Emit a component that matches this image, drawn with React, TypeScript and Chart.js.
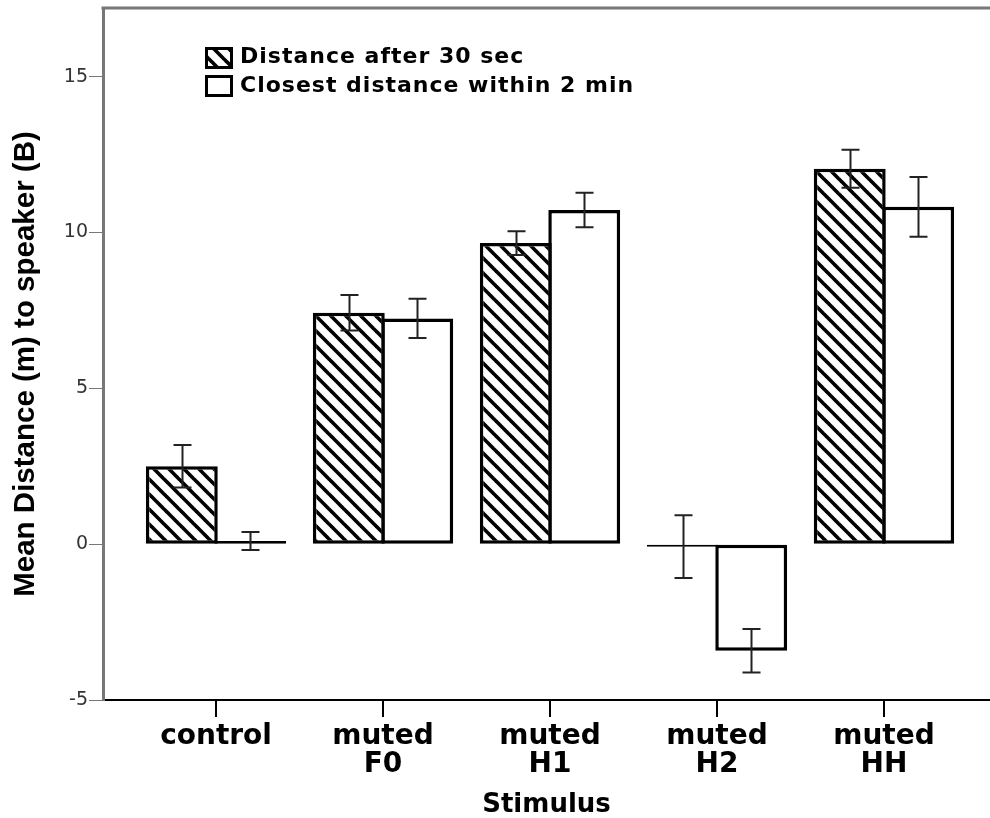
import React, { useEffect, useRef } from 'react';
import { Chart, registerables } from 'chart.js';

Chart.register(...registerables);

const categories: (string | string[])[] = ['control', ['muted', 'F0'], ['muted', 'H1'], ['muted', 'H2'], ['muted', 'HH']];
const after30 = [2.5, 7.42, 9.66, -0.08, 12.04];
const after30Err = [0.68, 0.57, 0.38, 1.01, 0.61];
const closest = [0.1, 7.24, 10.72, -3.42, 10.82];
const closestErr = [0.29, 0.63, 0.55, 0.7, 0.96];
const seriesLabels = ['Distance after 30 sec', 'Closest distance within 2 min'];
const yTitle = 'Mean Distance (m) to speaker (B)';
const xTitle = 'Stimulus';
const yMin = -5;
const yMax = 17.2;
const yStep = 5;
const xMin = -0.677;
const xMax = 4.635;

function makeHatch(): CanvasPattern | string {
  const s = 15;
  const c = document.createElement('canvas');
  c.width = s;
  c.height = s;
  const g = c.getContext('2d');
  if (!g) return '#888';
  g.fillStyle = '#fff';
  g.fillRect(0, 0, s, s);
  g.strokeStyle = '#000';
  g.lineWidth = 3.6;
  for (const k of [-2, -1, 0, 1, 2]) {
    g.beginPath();
    g.moveTo(k * s - s, -s);
    g.lineTo(k * s + 2 * s, 2 * s);
    g.stroke();
  }
  return g.createPattern(c, 'repeat') || '#888';
}

export default function App() {
  const ref = useRef<HTMLCanvasElement | null>(null);

  useEffect(() => {
    if (!ref.current) return;
    const hatch = makeHatch();
    const errs = [after30Err, closestErr];
    const vals = [after30, closest];

    const errorBars = {
      id: 'errorBars',
      afterDatasetsDraw(chart: any) {
        const ctx = chart.ctx;
        const y = chart.scales.y;
        ctx.save();
        ctx.strokeStyle = '#222';
        ctx.lineWidth = 2;
        chart.data.datasets.forEach((_ds: any, i: number) => {
          const meta = chart.getDatasetMeta(i);
          meta.data.forEach((el: any, j: number) => {
            const x = Math.round(el.x) + 0.5;
            const v = vals[i][j];
            const e = errs[i][j];
            const top = y.getPixelForValue(v + e);
            const bot = y.getPixelForValue(v - e);
            ctx.beginPath();
            ctx.moveTo(x, top);
            ctx.lineTo(x, bot);
            ctx.moveTo(x - 9, top);
            ctx.lineTo(x + 9, top);
            ctx.moveTo(x - 9, bot);
            ctx.lineTo(x + 9, bot);
            ctx.stroke();
          });
        });
        ctx.restore();
      },
    };

    const frame = {
      id: 'frame',
      afterDraw(chart: any) {
        const ctx = chart.ctx;
        const a = chart.chartArea;
        ctx.save();
        ctx.strokeStyle = '#777';
        ctx.lineWidth = 3;
        ctx.beginPath();
        ctx.moveTo(a.left - 1.5, a.top);
        ctx.lineTo(a.right, a.top);
        ctx.stroke();
        ctx.save();
        ctx.translate(26, (a.top + a.bottom) / 2 + 10);
        ctx.rotate(-Math.PI / 2);
        ctx.font = 'bold 29.5px "Liberation Sans"';
        ctx.fillStyle = '#000';
        ctx.textAlign = 'center';
        ctx.textBaseline = 'middle';
        ctx.fillText(yTitle, 0, 0);
        ctx.restore();
        const bx = a.left + 102;
        const rows = [a.top + 39, a.top + 67];
        const fills = [hatch, '#fff'];
        ctx.font = 'bold 22px "DejaVu Sans"';
        (ctx as any).letterSpacing = '1px';
        ctx.textAlign = 'left';
        ctx.textBaseline = 'alphabetic';
        rows.forEach((ry, i) => {
          ctx.fillStyle = fills[i] as any;
          ctx.fillRect(bx, ry, 28, 22);
          ctx.strokeStyle = '#000';
          ctx.lineWidth = 3;
          ctx.strokeRect(bx + 1.5, ry + 1.5, 25, 19);
          ctx.fillStyle = '#000';
          ctx.fillText(chart.data.datasets[i].label, bx + 35, ry + 16 + (i === 1 ? 1 : 0));
        });
        ctx.restore();
      },
    };

    const chart = new Chart(ref.current, {
      type: 'bar',
      data: {
        datasets: [
          {
            label: seriesLabels[0],
            data: after30.map((v, i) => ({ x: i, y: v })),
            backgroundColor: hatch as any,
            borderColor: '#000',
            borderWidth: 3.5,
            borderSkipped: false,
            categoryPercentage: 0.82,
            barPercentage: 1.05,
          },
          {
            label: seriesLabels[1],
            data: closest.map((v, i) => ({ x: i, y: v })),
            backgroundColor: '#fff',
            borderColor: '#000',
            borderWidth: 3.5,
            borderSkipped: false,
            categoryPercentage: 0.82,
            barPercentage: 1.05,
          },
        ],
      } as any,
      options: {
        animation: false,
        responsive: false,
        devicePixelRatio: 1,
        layout: { padding: { top: 8, left: 0, right: 0, bottom: 0 } },
        plugins: {
          legend: { display: false },
          tooltip: { enabled: false },
        },
        scales: {
          x: {
            type: 'linear',
            min: xMin,
            max: xMax,
            offset: false,
            afterFit(scale: any) {
              scale.height = 118;
              scale.paddingLeft = 0;
              scale.paddingRight = 0;
            },
            grid: {
              display: true,
              offset: false,
              drawOnChartArea: false,
              drawTicks: true,
              tickLength: 17,
              color: '#000',
              lineWidth: 2,
            },
            border: { display: true, color: '#000', width: 2 },
            ticks: {
              stepSize: 1,
              includeBounds: false,
              autoSkip: false,
              maxRotation: 0,
              minRotation: 0,
              padding: 6,
              color: '#000',
              font: { family: 'DejaVu Sans', size: 28, weight: 'bold', lineHeight: 1 },
              callback: (v: any) => {
                const n = Number(v);
                return Number.isInteger(n) && categories[n] !== undefined ? categories[n] : '';
              },
            },
            title: {
              display: true,
              text: xTitle,
              color: '#000',
              font: { family: 'DejaVu Sans', size: 26, weight: 'bold', lineHeight: 1 },
              padding: { top: 0, bottom: 0 },
            },
          },
          y: {
            type: 'linear',
            min: yMin,
            max: yMax,
            afterFit(scale: any) {
              scale.width = 103;
              scale.paddingTop = 0;
              scale.paddingBottom = 0;
            },
            grid: {
              display: true,
              drawOnChartArea: false,
              drawTicks: true,
              tickLength: 14,
              color: '#777',
              lineWidth: 1,
            },
            border: { display: true, color: '#777', width: 3 },
            ticks: {
              stepSize: yStep,
              includeBounds: false,
              padding: 1,
              color: '#333',
              font: { family: 'DejaVu Sans', size: 19, lineHeight: 1 },
            },
            title: { display: false },
          },
        },
      } as any,
      plugins: [errorBars, frame],
    });

    return () => chart.destroy();
  }, []);

  return (
    <div style={{ position: 'absolute', left: 0, top: 0, width: 990, height: 818, background: '#fff' }}>
      <canvas ref={ref} width={990} height={818} style={{ display: 'block' }} />
    </div>
  );
}
